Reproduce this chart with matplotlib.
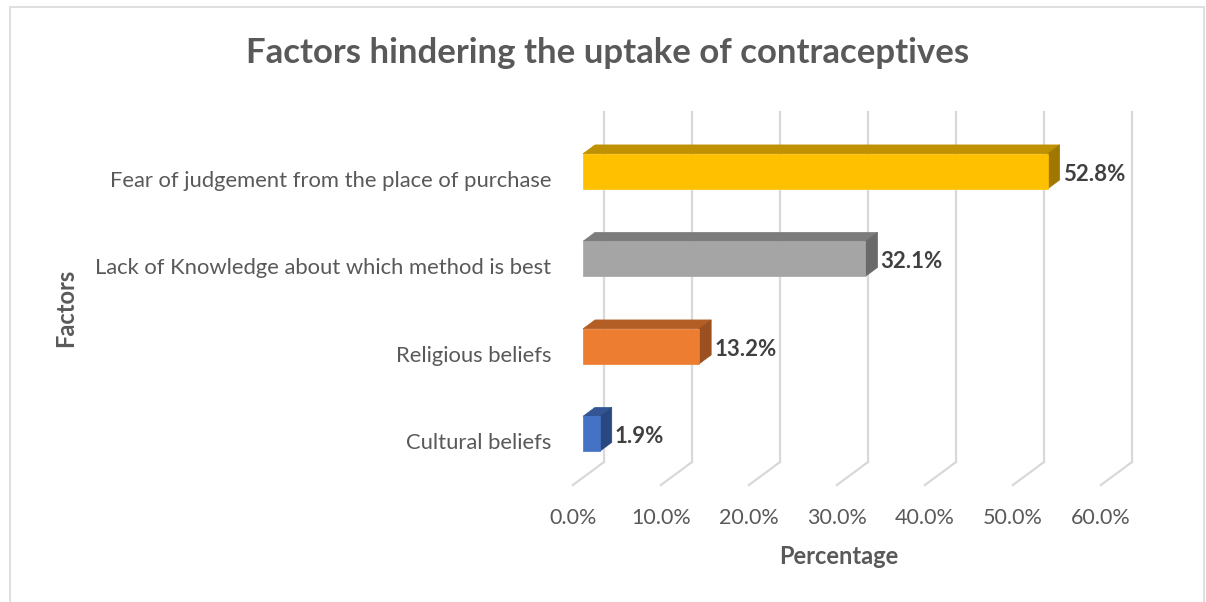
import matplotlib.pyplot as plt
from matplotlib.patches import Polygon, Rectangle

plt.rcParams['font.family'] = ['Lato', 'DejaVu Sans']

# Survey results, bottom to top as drawn
factors = ['Cultural beliefs', 'Religious beliefs',
           'Lack of Knowledge about which method is best',
           'Fear of judgement from the place of purchase']
percent = [1.9, 13.2, 32.1, 52.8]
ticks = [0, 10, 20, 30, 40, 50, 60]

front_colors = ['#4472C4', '#ED7D31', '#A5A5A5', '#FFC000']
top_colors = ['#335593', '#B25E25', '#7C7C7C', '#BF9000']
side_colors = ['#294780', '#9A5020', '#6A6A6A', '#A07800']

W, H = 1206, 602
fig = plt.figure(figsize=(W / 100, H / 100), dpi=100)

# back wall of the 3-D plot area, in pixels
wall_l, wall_r, wall_t, wall_b = 604, 1132, 112, 462
ax = fig.add_axes([wall_l / W, 1 - wall_b / H, (wall_r - wall_l) / W, (wall_b - wall_t) / H])
ax.set_xlim(0, 60)
ax.set_ylim(-0.5, 3.5)
ax.axis('off')

ppx = (wall_r - wall_l) / 60.0
ppy = (wall_b - wall_t) / 4.0
depth_px = (-31, 23)  # oblique direction from back wall to front edge of floor


def shift(t):
    """data offset for a plane at depth fraction t (0 = back wall, 1 = floor front)"""
    return t * depth_px[0] / ppx, -t * depth_px[1] / ppy


grid_c = '#D9D9D9'
fx, fy = shift(1.0)
for v in ticks:
    ax.plot([v, v], [-0.5, 3.5], color=grid_c, lw=1.6, clip_on=False, zorder=1)
    ax.plot([v, v + fx], [-0.5, -0.5 + fy], color=grid_c, lw=1.6, clip_on=False, zorder=1)
    ax.text(v + fx, -0.5 + fy - 33 / ppy, f'{v:.1f}%', ha='center', va='center',
            fontsize=15.5, color='#595959')

# 3-D bars: front face, top face and right side face
fdx, fdy = shift(21 / 31)
bdx, bdy = shift(9 / 31)
half = 0.2
for i, (val, fc, tc, sc) in enumerate(zip(percent, front_colors, top_colors, side_colors)):
    y0, y1 = i - half, i + half
    front = [(fdx, y0 + fdy), (val + fdx, y0 + fdy), (val + fdx, y1 + fdy), (fdx, y1 + fdy)]
    top = [(fdx, y1 + fdy), (val + fdx, y1 + fdy), (val + bdx, y1 + bdy), (bdx, y1 + bdy)]
    side = [(val + fdx, y0 + fdy), (val + bdx, y0 + bdy), (val + bdx, y1 + bdy), (val + fdx, y1 + fdy)]
    for poly, c in ((top, tc), (side, sc), (front, fc)):
        ax.add_patch(Polygon(poly, closed=True, facecolor=c, edgecolor=c, lw=0.5,
                             clip_on=False, zorder=3))
    ax.text(val + fdx + 15 / ppx, i + fdy - 3 / ppy, f'{val}%', ha='left', va='center',
            fontsize=16, fontweight='bold', color='#404040', zorder=4)

for i, name in enumerate(factors):
    ax.text(fx - 22 / ppx, i + fy - 2 / ppy, name, ha='right', va='center',
            fontsize=15.8, color='#595959')

fig.text(608 / W, 1 - 53 / H, 'Factors hindering the uptake of contraceptives',
         ha='center', va='center', fontsize=25, fontweight='bold', color='#595959')
fig.text(839 / W, 1 - 557 / H, 'Percentage', ha='center', va='center',
         fontsize=17, fontweight='bold', color='#595959')
fig.text(66 / W, 1 - 308 / H, 'Factors', ha='center', va='center', rotation=90,
         fontsize=17, fontweight='bold', color='#595959')

# chart area border
fig.patches.append(Rectangle((10 / W, -0.02), (1204 - 10) / W, 1.02 - 7 / H,
                             transform=fig.transFigure, fill=False,
                             edgecolor='#D9D9D9', lw=1.2))

fig.savefig('out.png', dpi=100, facecolor='white')
